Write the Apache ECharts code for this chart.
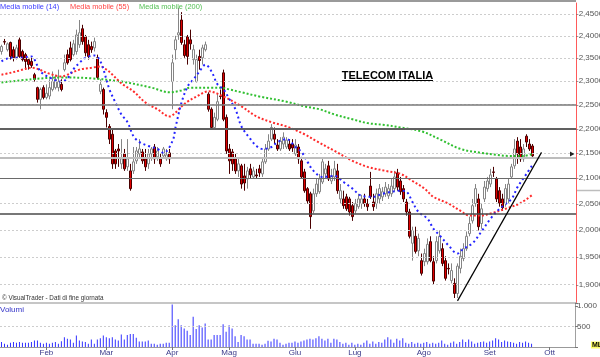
<!DOCTYPE html>
<html><head><meta charset="utf-8">
<script src="https://cdn.jsdelivr.net/npm/echarts@6/dist/echarts.min.js"></script>
<style>html,body{margin:0;padding:0;background:#fff}#c{width:600px;height:357px}</style>
</head><body><div id="c"></div>
<script>
// ---- axis / labels ----
const monthLabels = ['Feb','Mar','Apr','Mag','Giu','Lug','Ago','Set','Ott'];
const monthStartIdx = [15,35,57,76,98,118,141,163,183];
const slotCount = 192;
const priceTicks = [2.45,2.40,2.35,2.30,2.25,2.20,2.15,2.10,2.05,2.00,1.95,1.90];
const volumeTickLabels = {500:'500', 1000:'1.000'};
const supportLevels = [2.2533, 2.1989, 2.1408, 2.0994, 2.0251];
const trendStart = [152, 1.871];
const trendEnd = [180, 2.151];

// ---- daily prices ----
const opens = [
2.365,2.387,2.369,2.385,2.369,2.351,2.391,2.365,2.358,2.347,
2.343,2.314,2.286,2.261,2.286,2.265,2.268,2.282,2.286,2.286,
2.293,2.325,2.358,2.373,2.358,2.365,2.380,2.416,2.398,2.380,
2.376,2.373,2.351,2.278,2.282,2.233,2.204,2.188,2.154,2.158,
2.128,2.148,2.122,2.114,2.114,2.134,2.148,2.152,2.138,2.128,
2.148,2.162,2.142,2.138,2.144,2.138,2.150,2.299,2.369,2.402,
2.436,2.380,2.398,2.391,2.347,2.299,2.354,2.351,2.369,2.272,
2.240,2.202,2.219,2.268,2.318,2.223,2.158,2.152,2.138,2.114,
2.124,2.104,2.098,2.118,2.102,2.106,2.118,2.108,2.132,2.158,
2.178,2.188,2.166,2.158,2.168,2.162,2.168,2.168,2.148,2.162,
2.134,2.112,2.079,2.069,2.036,2.069,2.073,2.092,2.108,2.124,
2.094,2.102,2.114,2.059,2.059,2.063,2.059,2.046,2.036,2.044,
2.050,2.059,2.050,2.084,2.053,2.050,2.059,2.063,2.069,2.065,
2.069,2.079,2.110,2.094,2.079,2.053,2.034,1.975,1.988,1.961,
1.943,1.941,1.941,1.978,1.941,1.943,1.961,1.965,1.943,1.929,
1.907,1.902,1.884,1.929,1.947,1.965,1.993,2.017,2.050,2.059,
2.012,2.059,2.079,2.088,2.112,2.098,2.075,2.059,2.050,2.059,
2.102,2.124,2.174,2.162,2.138,2.184,2.168,2.164];
const closes = [
2.376,2.386,2.382,2.354,2.351,2.373,2.354,2.347,2.343,2.336,
2.334,2.304,2.261,2.282,2.265,2.274,2.286,2.299,2.304,2.299,
2.282,2.340,2.340,2.347,2.382,2.402,2.407,2.387,2.362,2.354,
2.369,2.387,2.308,2.293,2.240,2.223,2.178,2.128,2.128,2.154,
2.138,2.118,2.138,2.079,2.132,2.154,2.158,2.134,2.122,2.148,
2.158,2.138,2.154,2.128,2.158,2.146,2.138,2.340,2.391,2.407,
2.385,2.356,2.354,2.382,2.369,2.347,2.345,2.373,2.380,2.240,
2.202,2.223,2.256,2.267,2.219,2.154,2.134,2.128,2.114,2.128,
2.088,2.090,2.114,2.106,2.114,2.104,2.110,2.132,2.158,2.174,
2.202,2.178,2.158,2.174,2.182,2.176,2.158,2.160,2.166,2.138,
2.102,2.075,2.055,2.025,2.069,2.088,2.098,2.132,2.118,2.098,
2.104,2.118,2.075,2.075,2.046,2.040,2.034,2.025,2.050,2.059,
2.059,2.050,2.044,2.063,2.044,2.069,2.079,2.073,2.082,2.079,
2.084,2.102,2.082,2.073,2.059,2.034,1.988,1.999,1.960,1.984,
1.920,1.956,1.973,1.943,1.906,1.978,1.988,1.938,1.911,1.928,
1.925,1.884,1.933,1.951,1.965,1.988,2.012,2.046,2.079,2.006,
2.040,2.082,2.094,2.106,2.111,2.059,2.051,2.042,2.079,2.088,
2.122,2.158,2.148,2.138,2.158,2.172,2.158,2.144];
const lows = [
2.358,2.380,2.365,2.347,2.343,2.347,2.351,2.343,2.325,2.325,
2.329,2.299,2.254,2.240,2.261,2.261,2.261,2.278,2.282,2.278,
2.278,2.321,2.336,2.343,2.354,2.358,2.373,2.380,2.354,2.347,
2.362,2.365,2.304,2.272,2.229,2.202,2.168,2.118,2.118,2.122,
2.118,2.114,2.114,2.075,2.108,2.128,2.138,2.128,2.114,2.118,
2.134,2.128,2.134,2.122,2.138,2.134,2.128,2.240,2.347,2.391,
2.380,2.351,2.336,2.369,2.336,2.297,2.325,2.336,2.365,2.235,
2.198,2.198,2.215,2.261,2.215,2.148,2.108,2.114,2.108,2.102,
2.079,2.075,2.079,2.098,2.098,2.098,2.102,2.102,2.128,2.154,
2.174,2.168,2.154,2.154,2.158,2.158,2.154,2.152,2.144,2.128,
2.098,2.071,2.050,2.002,2.031,2.063,2.069,2.088,2.098,2.094,
2.088,2.094,2.069,2.050,2.040,2.036,2.027,2.017,2.031,2.040,
2.040,2.044,2.036,2.059,2.036,2.040,2.050,2.055,2.063,2.059,
2.063,2.073,2.075,2.067,2.053,2.027,1.984,1.943,1.956,1.951,
1.916,1.933,1.936,1.940,1.900,1.938,1.956,1.933,1.907,1.918,
1.902,1.876,1.876,1.920,1.942,1.961,1.988,2.012,2.044,1.999,
2.002,2.053,2.073,2.082,2.102,2.053,2.044,2.036,2.044,2.050,
2.098,2.118,2.128,2.132,2.132,2.162,2.154,2.142];
const highs = [
2.380,2.393,2.385,2.387,2.376,2.380,2.396,2.369,2.362,2.351,
2.351,2.318,2.288,2.286,2.291,2.293,2.304,2.321,2.314,2.325,
2.304,2.358,2.369,2.387,2.391,2.414,2.436,2.425,2.402,2.391,
2.387,2.396,2.358,2.304,2.286,2.240,2.209,2.198,2.158,2.168,
2.178,2.158,2.178,2.128,2.162,2.162,2.178,2.158,2.158,2.158,
2.162,2.168,2.162,2.148,2.162,2.158,2.158,2.358,2.400,2.464,
2.454,2.391,2.402,2.414,2.380,2.358,2.369,2.380,2.387,2.276,
2.244,2.233,2.272,2.282,2.325,2.229,2.168,2.158,2.148,2.138,
2.128,2.128,2.122,2.128,2.122,2.118,2.126,2.138,2.168,2.188,
2.209,2.202,2.178,2.182,2.192,2.182,2.178,2.178,2.178,2.168,
2.142,2.118,2.082,2.073,2.079,2.098,2.108,2.138,2.128,2.134,
2.118,2.134,2.128,2.088,2.075,2.069,2.063,2.053,2.059,2.069,
2.067,2.069,2.059,2.112,2.069,2.079,2.088,2.082,2.092,2.088,
2.098,2.114,2.118,2.102,2.086,2.059,2.040,2.006,2.006,1.993,
1.956,1.965,1.984,1.988,1.951,1.988,1.999,1.975,1.951,1.938,
1.938,1.911,1.938,1.965,1.975,1.997,2.025,2.059,2.088,2.069,
2.050,2.094,2.102,2.118,2.122,2.102,2.082,2.069,2.088,2.098,
2.128,2.178,2.182,2.178,2.168,2.188,2.178,2.168];
const volumes = [
119,80,55,103,119,103,119,103,103,103,
119,159,159,103,80,103,80,103,119,80,
140,238,198,183,103,278,159,135,119,80,
183,80,183,214,278,238,214,238,183,159,
301,183,293,317,317,222,135,135,135,159,
80,80,55,80,80,103,103,1031,531,674,
531,452,397,293,738,436,531,476,571,183,
183,293,293,293,555,373,531,452,262,119,
293,262,183,183,80,80,80,55,80,151,
135,198,183,103,55,80,103,103,135,103,
135,159,183,198,183,214,262,198,159,198,
103,198,183,119,80,103,55,103,55,80,
55,103,159,80,135,80,119,103,183,238,
183,103,198,159,214,103,80,119,80,103,
80,103,119,80,103,80,103,159,80,55,
103,135,80,119,183,119,183,135,80,103,
119,135,103,135,159,214,183,119,159,135,
119,103,80,119,103,135,103,80];

// ---- moving averages [dayIndex, value] ----
const ma14 = [[0,2.343],[3,2.351],[6,2.351],[10,2.354],[11,2.347],[13,2.321],[16,2.308],[20,2.299],[22,2.306],[24,2.326],[26,2.340],[28,2.351],[31,2.356],[33,2.343],[36,2.282],[38,2.254],[40,2.229],[42,2.213],[44,2.184],[46,2.172],[49,2.164],[52,2.158],[54,2.150],[57,2.174],[58,2.202],[60,2.254],[62,2.288],[64,2.304],[66,2.321],[68,2.336],[70,2.321],[72,2.293],[74,2.282],[76,2.261],[78,2.240],[80,2.204],[83,2.178],[85,2.164],[87,2.158],[90,2.162],[92,2.172],[95,2.178],[98,2.162],[100,2.152],[102,2.132],[104,2.114],[107,2.102],[111,2.104],[114,2.092],[117,2.079],[120,2.065],[124,2.063],[127,2.069],[133,2.075],[135,2.073],[137,2.053],[139,2.034],[142,2.021],[144,2.002],[146,1.990],[149,1.971],[152,1.956],[154,1.965],[157,1.975],[160,1.997],[163,2.021],[166,2.040],[170,2.059],[172,2.082],[175,2.108],[177,2.126]];
const ma55 = [[0,2.314],[3,2.318],[6,2.323],[10,2.329],[16,2.316],[20,2.310],[22,2.314],[26,2.325],[30,2.329],[33,2.332],[35,2.325],[37,2.314],[40,2.295],[44,2.278],[48,2.254],[52,2.240],[56,2.225],[58,2.233],[60,2.246],[62,2.256],[65,2.267],[69,2.278],[74,2.267],[80,2.246],[85,2.225],[90,2.213],[95,2.204],[101,2.188],[105,2.174],[111,2.154],[117,2.134],[122,2.122],[128,2.114],[133,2.108],[137,2.094],[141,2.079],[144,2.063],[149,2.050],[153,2.036],[156,2.027],[160,2.027],[163,2.031],[168,2.040],[173,2.051],[177,2.067]];
const ma200 = [[0,2.297],[10,2.304],[20,2.308],[30,2.306],[40,2.299],[50,2.286],[56,2.276],[60,2.280],[63,2.286],[70,2.286],[73,2.286],[76,2.282],[80,2.276],[86,2.267],[95,2.256],[101,2.246],[106,2.240],[111,2.229],[117,2.219],[122,2.211],[128,2.207],[133,2.202],[140,2.194],[146,2.178],[153,2.158],[160,2.150],[165,2.146],[169,2.144],[174,2.144],[177,2.148]];

// ---- build ----
const FONT = '"Liberation Sans", Arial, sans-serif';
const categories = Array.from({length: slotCount}, (_, i) => String(i));
const monthAt = {};
monthStartIdx.forEach((k, j) => { monthAt[k] = monthLabels[j]; });
const candles = opens.map((o, i) => [o, closes[i], lows[i], highs[i]]);
const fmt = v => v.toFixed(4).replace('.', ',');
const levelStyles = [
  {color:'#7a7a7a', width:1.5}, {color:'#606060', width:2}, {color:'#bdbdbd', width:2},
  {color:'#6a6a6a', width:1}, {color:'#4a4a4a', width:1.6}
];
const maLine = (data, color, dash) => ({
  type:'line', xAxisIndex:0, yAxisIndex:0, data, showSymbol:false, smooth:0.35, z:4,
  silent:true, lineStyle:{color, width:2, type:dash}
});

const chart = echarts.init(document.getElementById('c'), null, {renderer:'canvas', width:600, height:357});
chart.setOption({
  animation:false,
  backgroundColor:'#ffffff',
  textStyle:{fontFamily:FONT},
  grid:[{left:0, top:3, width:576, height:300}, {left:0, top:303, width:576, height:45}],
  xAxis:[
    {type:'category', gridIndex:0, data:categories, boundaryGap:true,
     axisLine:{show:true, lineStyle:{color:'#b4b4b4', width:1.5}}, axisTick:{show:false}, axisLabel:{show:false}, splitLine:{show:false}},
    {type:'category', gridIndex:1, data:categories, boundaryGap:true,
     axisLine:{show:true, lineStyle:{color:'#999', width:1}},
     axisTick:{show:true, alignWithLabel:true, interval:(i) => (i in monthAt), length:3, lineStyle:{color:'#777'}},
     axisLabel:{interval:(i) => (i in monthAt), formatter:(v) => monthAt[+v] || '', color:'#3a3a8a', fontSize:8, margin:2, fontFamily:FONT},
     splitLine:{show:false}}
  ],
  yAxis:[
    {type:'log', logBase:10, gridIndex:0, min:1.8672, max:2.4752, position:'right',
     axisLine:{show:true, lineStyle:{color:'#ff5a5a', width:1}}, axisTick:{show:false}, axisLabel:{show:false}, splitLine:{show:false}},
    {type:'value', gridIndex:1, min:0, max:1070, interval:500, position:'right',
     axisLine:{show:true, lineStyle:{color:'#a0a0a0'}}, axisTick:{show:true, length:3, lineStyle:{color:'#777'}},
     axisLabel:{color:'#555', fontSize:8, margin:2, fontFamily:FONT, formatter:(v) => volumeTickLabels[v] || ''},
     splitLine:{show:false}}
  ],
  series:[
    {type:'line', xAxisIndex:0, yAxisIndex:0, data:[], z:1, silent:true,
     markLine:{symbol:['none','none'], silent:true, animation:false,
       data: priceTicks.map(v => ({yAxis:v, lineStyle:{color:'#cdcdcd', type:[2,2], width:1},
         label:{show:true, position:'end', formatter:'-' + fmt(v), color:'#555', fontSize:8, fontFamily:FONT, distance:0}}))}},
    {type:'line', xAxisIndex:0, yAxisIndex:0, data:[], z:2, silent:true,
     markLine:{symbol:['none','none'], silent:true, animation:false,
       data: supportLevels.map((v, i) => ({yAxis:v, lineStyle:{color:levelStyles[i].color, width:levelStyles[i].width, type:'solid'}, label:{show:false}}))}},
    {type:'candlestick', xAxisIndex:0, yAxisIndex:0, data:candles, barWidth:2.8, z:3, silent:true,
     itemStyle:{color:'#ffffff', color0:'#e00000', borderColor:'#858585', borderColor0:'#4a0000', borderWidth:1}},
    maLine(ma200, '#2fbf2f', [2,2]),
    maLine(ma55, '#ff2b2b', [2,2]),
    maLine(ma14, '#2424ff', [2,3]),
    {type:'line', xAxisIndex:0, yAxisIndex:0, data:[], z:5, silent:true,
     markLine:{symbol:['none','none'], silent:true, animation:false,
       lineStyle:{color:'#000', width:1.2, type:'solid'}, label:{show:false},
       data:[[{coord:trendStart}, {coord:trendEnd}]]}},
    {type:'bar', xAxisIndex:1, yAxisIndex:1, data:volumes, barWidth:1, silent:true,
     itemStyle:{color:'#3030ff'},
     markLine:{symbol:['none','none'], silent:true, animation:false, label:{show:false},
       data:[{yAxis:500, lineStyle:{color:'#cdcdcd', type:[2,2], width:1}}]}}
  ],
  graphic:[
    {type:'line', shape:{x1:0, y1:1, x2:576, y2:1}, style:{stroke:'#9a9a9a', lineWidth:2}, z:10},
    {type:'text', x:0, y:7, z:10, style:{text:'Media mobile (14)', fill:'#3b3bff', font:'7.4px ' + FONT, verticalAlign:'middle'}},
    {type:'text', x:70, y:7, z:10, style:{text:'Media mobile (55)', fill:'#ff4444', font:'7.4px ' + FONT, verticalAlign:'middle'}},
    {type:'text', x:139, y:7, z:10, style:{text:'Media mobile (200)', fill:'#55c055', font:'7.4px ' + FONT, verticalAlign:'middle'}},
    {type:'text', x:387.5, y:75.5, z:10, style:{text:'TELECOM ITALIA', fill:'#000', font:'bold 11px ' + FONT, align:'center', verticalAlign:'middle'}},
    {type:'line', shape:{x1:342, y1:80.5, x2:433, y2:80.5}, style:{stroke:'#000', lineWidth:1}, z:10},
    {type:'text', x:2, y:298, z:10, style:{text:'\u00a9 VisualTrader - Dati di fine giornata', fill:'#333', font:'6.3px ' + FONT, verticalAlign:'middle'}},
    {type:'text', x:0, y:309.5, z:10, style:{text:'Volumi', fill:'#3434c8', font:'8px ' + FONT, verticalAlign:'middle'}},
    {type:'polygon', shape:{points:[[570,151.5],[570,156.5],[574.5,154]]}, style:{fill:'#222'}, z:10},
    {type:'line', shape:{x1:577, y1:190.5, x2:600, y2:190.5}, style:{stroke:'#bdbdbd', lineWidth:1.5}, z:10},
    {type:'text', x:591, y:345, z:10, style:{text:'ML', fill:'#000', font:'bold 7px ' + FONT, backgroundColor:'#ffff66', padding:[0,1,0,1], verticalAlign:'middle'}}
  ]
});
</script></body></html>
